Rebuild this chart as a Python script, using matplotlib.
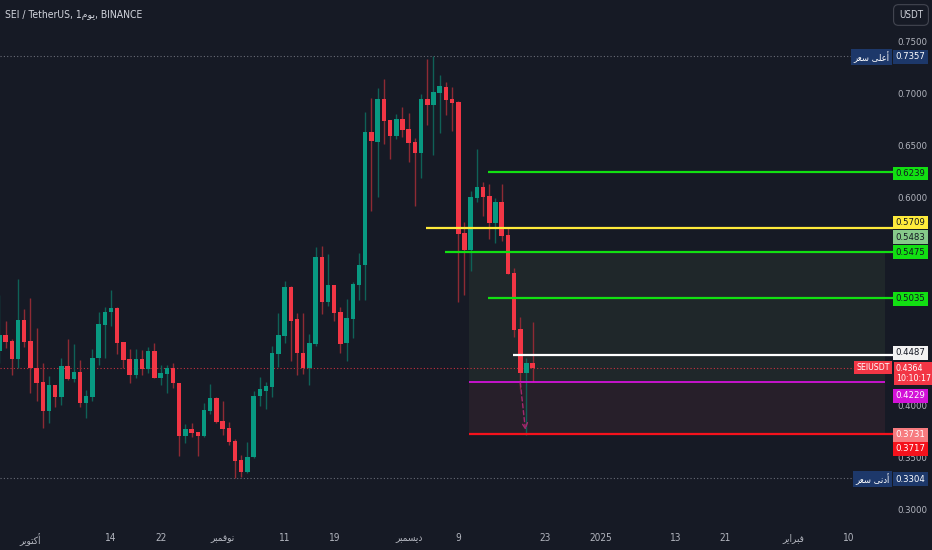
import matplotlib
matplotlib.use('Agg')
import matplotlib.pyplot as plt
import matplotlib.dates as mdates
import matplotlib.ticker as mticker
import pandas as pd
import numpy as np

# daily SEI/USDT candles, 2024-09-26 .. 2024-12-21
opens = [0.4528, 0.4678, 0.4620, 0.4451, 0.4819,
         0.4620, 0.4358, 0.4227, 0.3948, 0.4195,
         0.4086, 0.4384, 0.4252, 0.4320, 0.4028,
         0.4086, 0.4457, 0.4777, 0.4899, 0.4937,
         0.4611, 0.4444, 0.4294, 0.4444, 0.4348,
         0.4524, 0.4268, 0.4304, 0.4358, 0.4220,
         0.3712, 0.3776, 0.3744, 0.3712, 0.3952,
         0.4070, 0.3852, 0.3782, 0.3660, 0.3478,
         0.3366, 0.3504, 0.4092, 0.4144, 0.4182,
         0.4496, 0.4668, 0.5142, 0.4835, 0.4508,
         0.4358, 0.4592, 0.5430, 0.4992, 0.5158,
         0.4902, 0.4598, 0.4832, 0.5158, 0.5347,
         0.6624, 0.6534, 0.6940, 0.6739, 0.6588,
         0.6748, 0.6656, 0.6531, 0.6422, 0.6940,
         0.6886, 0.7004, 0.7062, 0.6947, 0.6915,
         0.5660, 0.5494, 0.5990, 0.6099, 0.6016,
         0.5750, 0.5958, 0.5638, 0.5276, 0.4736,
         0.4316, 0.4412]
closes = [0.4678, 0.4611, 0.4451, 0.4819, 0.4611,
          0.4358, 0.4220, 0.3948, 0.4195, 0.4086,
          0.4384, 0.4252, 0.4326, 0.4028, 0.4092,
          0.4457, 0.4784, 0.4899, 0.4937, 0.4604,
          0.4438, 0.4294, 0.4444, 0.4348, 0.4524,
          0.4268, 0.4310, 0.4358, 0.4214, 0.3712,
          0.3776, 0.3740, 0.3712, 0.3958, 0.4070,
          0.3846, 0.3776, 0.3654, 0.3472, 0.3366,
          0.3510, 0.4096, 0.4156, 0.4188, 0.4502,
          0.4678, 0.5142, 0.4816, 0.4502, 0.4358,
          0.4601, 0.5430, 0.4992, 0.5158, 0.4892,
          0.4592, 0.4844, 0.5168, 0.5353, 0.6624,
          0.6540, 0.6940, 0.6732, 0.6588, 0.6748,
          0.6646, 0.6524, 0.6422, 0.6940, 0.6886,
          0.7008, 0.7068, 0.6934, 0.6908, 0.5648,
          0.5494, 0.6003, 0.6099, 0.6006, 0.5750,
          0.5958, 0.5632, 0.5264, 0.4726, 0.4316,
          0.4412, 0.4364]
highs = [0.5062, 0.4812, 0.4636, 0.5216, 0.4928,
         0.5036, 0.4742, 0.4406, 0.4284, 0.4200,
         0.4457, 0.4636, 0.4592, 0.4438, 0.4150,
         0.4544, 0.4896, 0.4950, 0.5110, 0.4950,
         0.4615, 0.4544, 0.4544, 0.4534, 0.4560,
         0.4598, 0.4390, 0.4390, 0.4406, 0.4222,
         0.3820, 0.3830, 0.3750, 0.4022, 0.4204,
         0.4086, 0.4044, 0.3840, 0.3676, 0.3526,
         0.3654, 0.4140, 0.4278, 0.4230, 0.4572,
         0.4892, 0.5200, 0.5148, 0.4892, 0.4886,
         0.4688, 0.5520, 0.5532, 0.5456, 0.5162,
         0.4944, 0.5020, 0.5190, 0.5468, 0.6816,
         0.6956, 0.7046, 0.7136, 0.6742, 0.6800,
         0.6870, 0.6806, 0.6566, 0.6988, 0.7330,
         0.7357, 0.7174, 0.7110, 0.7056, 0.6920,
         0.5766, 0.6064, 0.6464, 0.6144, 0.6124,
         0.5996, 0.6124, 0.5708, 0.5318, 0.4854,
         0.4454, 0.4800]
lows = [0.4406, 0.4556, 0.4294, 0.4358, 0.4566,
        0.4118, 0.4044, 0.3788, 0.3830, 0.3990,
        0.4006, 0.4246, 0.4230, 0.3990, 0.3878,
        0.4048, 0.4390, 0.4460, 0.4768, 0.4496,
        0.4358, 0.4220, 0.4262, 0.4294, 0.4310,
        0.4262, 0.4198, 0.4124, 0.4166, 0.3520,
        0.3644, 0.3702, 0.3520, 0.3702, 0.3920,
        0.3830, 0.3718, 0.3622, 0.3304, 0.3318,
        0.3356, 0.3500, 0.3996, 0.3964, 0.4086,
        0.4374, 0.4604, 0.4428, 0.4294, 0.4304,
        0.4198, 0.4572, 0.4876, 0.4960, 0.4812,
        0.4502, 0.4428, 0.4652, 0.5014, 0.5014,
        0.5872, 0.6006, 0.6508, 0.6364, 0.6556,
        0.6576, 0.6342, 0.5916, 0.6182, 0.6694,
        0.6406, 0.6614, 0.6790, 0.6636, 0.4998,
        0.5062, 0.5292, 0.5958, 0.5824, 0.5600,
        0.5558, 0.5580, 0.5260, 0.4662, 0.4156,
        0.3717, 0.4230]
first_day = '2024-09-26'

# drawn levels: price, start time, colour
ray_prices = [0.6239, 0.5709, 0.5475, 0.5035, 0.4487, 0.3731]
ray_starts = ['2024-12-13 18:00', '2024-12-03 19:00', '2024-12-06 22:00',
              '2024-12-13 18:00', '2024-12-17 19:00', '2024-12-10 19:00']
ray_colors = ['#12e012', '#ffeb3b', '#12e012', '#12e012', '#ffffff', '#f5121c']

# long position tool
pos_entry = 0.4229
pos_target = 0.5483
pos_stop = 0.3731
pos_start = '2024-12-10 19:00'
pos_end = '2025-02-15 19:00'

high_price = 0.7357
low_price = 0.3304
last_price = 0.4364
countdown = '10:10:17'

# price scale labels that stay visible (others are hidden behind tags)
price_ticks = [0.30, 0.35, 0.40, 0.60, 0.65, 0.70, 0.75]

# arabic labels (already shaped, visual order)
lbl_oct = '\uFEAE\uFE91\uFEEE\uFE98\uFEDB\uFE83'
lbl_nov = '\uFEAE\uFE92\uFEE4\uFED3\uFEEE\uFEE7'
lbl_dec = '\uFEAE\uFE92\uFEE4\uFEB4\uFEF3\uFEA9'
lbl_feb = '\uFEAE\uFEF3\uFE8D\uFEAE\uFE92\uFED3'
lbl_high = '\uFEAE\uFECC\uFEB3 \uFEF0\uFEE0\uFECB\uFE83'
lbl_low = '\uFEAE\uFECC\uFEB3 \uFEF0\uFEE7\uFEA9\uFE83'
lbl_day = '\uFEE1\uFEEE\uFEF3'

tick_dates = ['2024-10-01', '2024-10-14', '2024-10-22', '2024-11-01', '2024-11-11',
              '2024-11-19', '2024-12-01', '2024-12-09', '2024-12-23', '2025-01-01',
              '2025-01-13', '2025-01-21', '2025-02-01', '2025-02-10']
tick_labels = [lbl_oct, '14', '22', lbl_nov, '11', '19', lbl_dec, '9', '23', '2025',
               '13', '21', lbl_feb, '10']

bg = '#161a25'
txt = '#b2b5be'
plt.rcParams['font.family'] = ['DejaVu Sans']
plt.rcParams['font.stretch'] = 'condensed'

o = np.array(opens)
c = np.array(closes)
h = np.array(highs)
l = np.array(lows)
x = mdates.date2num(pd.date_range(first_day, periods=len(o), freq='D'))

fig = plt.figure(figsize=(9.32, 5.5), dpi=100, facecolor=bg)
ax = fig.add_axes([0, 28 / 550, 893 / 932, 522 / 550])
ax.set_facecolor(bg)
for s in ax.spines.values():
    s.set_visible(False)

d0 = mdates.date2num(pd.Timestamp('2024-10-01'))
ax.set_xlim(d0 - 4.9, d0 + 139.1)
ax.set_ylim(0.28839, 0.78935)

# position box
ps = mdates.date2num(pd.Timestamp(pos_start))
pe = mdates.date2num(pd.Timestamp(pos_end))
ax.fill_between([ps, pe], pos_entry, pos_target, color='#1f272a', lw=0, zorder=1)
ax.fill_between([ps, pe], pos_stop, pos_entry, color='#271f2a', lw=0, zorder=1)
ax.hlines(pos_entry, ps, pe, color='#d312d8', lw=1.3, zorder=5)

# high / low / last price lines
ax.axhline(high_price, color='#6a6d78', ls=(0, (1, 2)), lw=0.8, zorder=2)
ax.axhline(low_price, color='#6a6d78', ls=(0, (1, 2)), lw=0.8, zorder=2)
ax.axhline(last_price, color='#f23645', ls=(0, (1, 2)), lw=0.8, alpha=0.8, zorder=2)

# candles
up = c >= o
wick_cols = np.where(up, '#0f6157', '#8e2a34')
body_cols = np.where(up, '#089981', '#f23645')
ax.vlines(x, l, h, colors=wick_cols, lw=1, zorder=3)
body_h = np.maximum(np.abs(c - o), 0.0008)
ax.bar(x, body_h, bottom=np.minimum(o, c), width=0.72, color=body_cols, lw=0, zorder=4)

# rays
xr = ax.get_xlim()[1]
for p, st, col in zip(ray_prices, ray_starts, ray_colors):
    ax.hlines(p, mdates.date2num(pd.Timestamp(st)), xr, color=col, lw=1.6, zorder=5)

# arrow of the drawing
a0 = mdates.date2num(pd.Timestamp('2024-12-19 00:00'))
a1 = mdates.date2num(pd.Timestamp('2024-12-19 20:00'))
ax.annotate('', xy=(a1, 0.3767), xytext=(a0, 0.4218),
            arrowprops=dict(arrowstyle='->', ls=(0, (3, 2)), color='#a3286e', lw=1,
                            shrinkA=0, shrinkB=0), zorder=6)

# axes ticks
ax.yaxis.tick_right()
ax.set_yticks(price_ticks)
ax.yaxis.set_major_formatter(mticker.FormatStrFormatter('%.4f'))
ax.tick_params(axis='y', length=0, pad=3, labelsize=6.8, labelcolor=txt)
ax.set_xticks(mdates.date2num(pd.to_datetime(tick_dates)))
ax.set_xticklabels(tick_labels)
ax.tick_params(axis='x', length=0, pad=8, labelsize=7.2, labelcolor=txt)


def price_tag(price, text, fc, tc, shift=0, side='right', size=6.8):
    dx = 2.0 if side == 'right' else -2.3
    ax.annotate(text, xy=(1, price), xycoords=('axes fraction', 'data'),
                xytext=(dx, shift / 1.389), textcoords='offset points',
                ha='left' if side == 'right' else 'right', va='center',
                fontsize=size, color=tc, annotation_clip=False, zorder=10,
                linespacing=1.1,
                bbox=dict(boxstyle='square,pad=0.25', fc=fc, ec='none'))


navy = '#1d386a'
price_tag(high_price, '%.4f' % high_price, navy, '#ffffff', -1)
price_tag(high_price, lbl_high, navy, '#ffffff', -1, side='left')
price_tag(0.6239, '0.6239', '#12e012', '#131722', -1)
price_tag(0.5709, '0.5709', '#ffeb3b', '#131722', 5)
price_tag(pos_target, '%.4f' % pos_target, '#86c98a', '#131722', 14)
price_tag(0.5475, '0.5475', '#12e012', '#131722', 0)
price_tag(0.5035, '0.5035', '#12e012', '#131722', -1)
price_tag(0.4487, '0.4487', '#f2f2f2', '#131722', 2)
price_tag(last_price, '%.4f\n%s' % (last_price, countdown), '#f23645', '#ffffff', -6, size=6.3)
price_tag(last_price, 'SEIUSDT', '#f23645', '#ffffff', 0, side='left', size=6.3)
price_tag(pos_entry, '%.4f' % pos_entry, '#d312d8', '#ffffff', -14)
price_tag(pos_stop, '%.4f' % pos_stop, '#f77b7f', '#ffffff', -1)
price_tag(0.3717, '0.3717', '#f5121c', '#ffffff', -13.5)
price_tag(low_price, '%.4f' % low_price, navy, '#ffffff', -1)
price_tag(low_price, lbl_low, navy, '#ffffff', -1, side='left')

fig.text(5 / 932, 1 - 15 / 550, 'SEI / TetherUS, 1' + lbl_day + ', BINANCE',
         fontsize=7.5, color='#d1d4dc', va='center', ha='left')
fig.text(911 / 932, 1 - 15 / 550, 'USDT', fontsize=7, color='#d1d4dc',
         ha='center', va='center',
         bbox=dict(boxstyle='round,pad=0.55,rounding_size=0.5', fc=bg, ec='#434651', lw=0.8))

fig.savefig('out.png', dpi=100, facecolor=bg)
